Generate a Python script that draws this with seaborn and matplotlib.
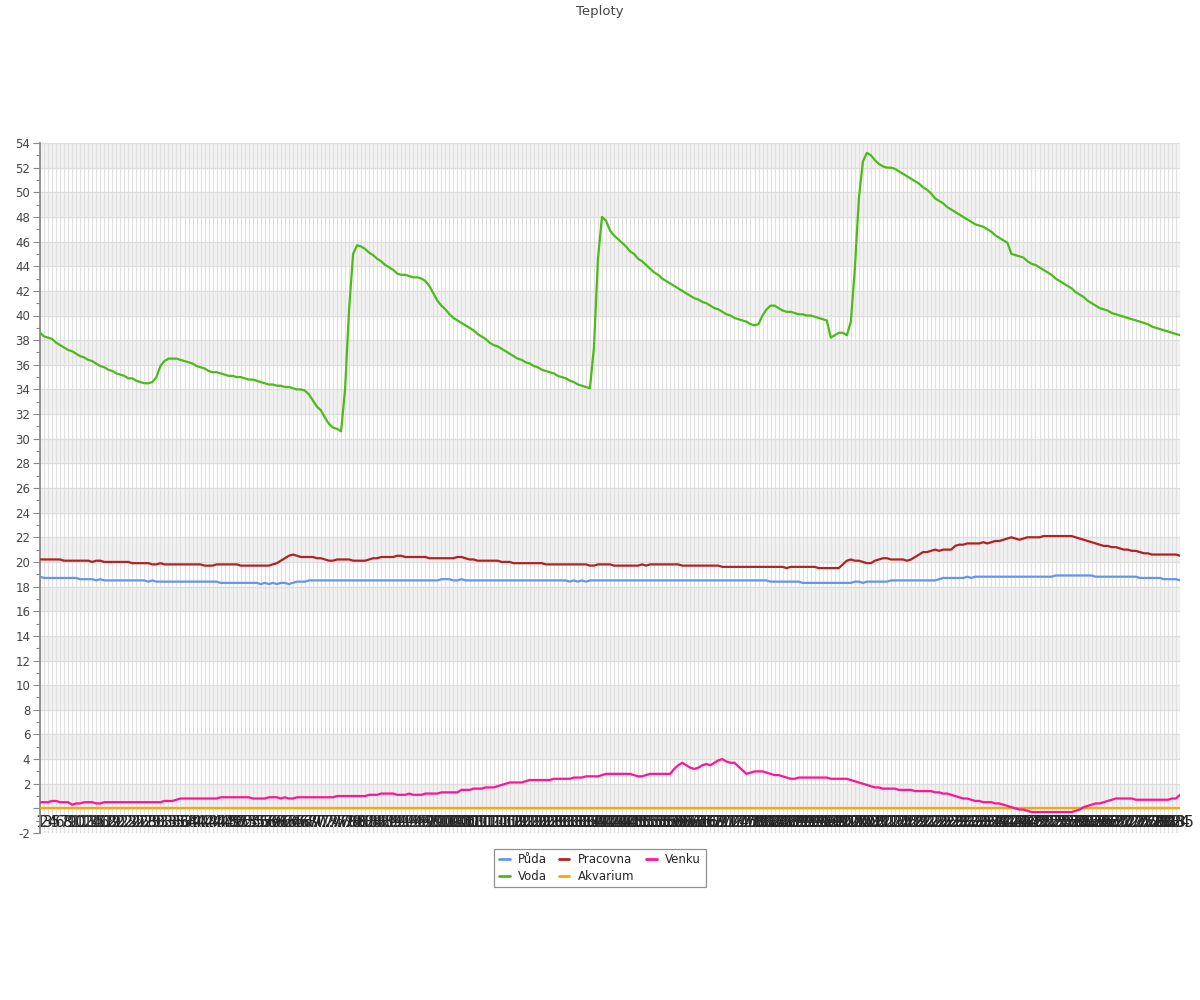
import pandas as pd
import matplotlib.pyplot as plt
import seaborn as sns
from matplotlib.lines import Line2D
from matplotlib.ticker import MultipleLocator

# x-axis categories: readings 1..285
x_labels = [str(n) for n in range(1, 286)]

puda = [
    18.8, 18.7, 18.7, 18.7, 18.7, 18.7, 18.7, 18.7, 18.7, 18.7,
    18.6, 18.6, 18.6, 18.6, 18.5, 18.6, 18.5, 18.5, 18.5, 18.5,
    18.5, 18.5, 18.5, 18.5, 18.5, 18.5, 18.5, 18.4, 18.5, 18.4,
    18.4, 18.4, 18.4, 18.4, 18.4, 18.4, 18.4, 18.4, 18.4, 18.4,
    18.4, 18.4, 18.4, 18.4, 18.4, 18.3, 18.3, 18.3, 18.3, 18.3,
    18.3, 18.3, 18.3, 18.3, 18.3, 18.2, 18.3, 18.2, 18.3, 18.2,
    18.3, 18.3, 18.2, 18.3, 18.4, 18.4, 18.4, 18.5, 18.5, 18.5,
    18.5, 18.5, 18.5, 18.5, 18.5, 18.5, 18.5, 18.5, 18.5, 18.5,
    18.5, 18.5, 18.5, 18.5, 18.5, 18.5, 18.5, 18.5, 18.5, 18.5,
    18.5, 18.5, 18.5, 18.5, 18.5, 18.5, 18.5, 18.5, 18.5, 18.5,
    18.6, 18.6, 18.6, 18.5, 18.5, 18.6, 18.5, 18.5, 18.5, 18.5,
    18.5, 18.5, 18.5, 18.5, 18.5, 18.5, 18.5, 18.5, 18.5, 18.5,
    18.5, 18.5, 18.5, 18.5, 18.5, 18.5, 18.5, 18.5, 18.5, 18.5,
    18.5, 18.5, 18.4, 18.5, 18.4, 18.5, 18.4, 18.5, 18.5, 18.5,
    18.5, 18.5, 18.5, 18.5, 18.5, 18.5, 18.5, 18.5, 18.5, 18.5,
    18.5, 18.5, 18.5, 18.5, 18.5, 18.5, 18.5, 18.5, 18.5, 18.5,
    18.5, 18.5, 18.5, 18.5, 18.5, 18.5, 18.5, 18.5, 18.5, 18.5,
    18.5, 18.5, 18.5, 18.5, 18.5, 18.5, 18.5, 18.5, 18.5, 18.5,
    18.5, 18.5, 18.4, 18.4, 18.4, 18.4, 18.4, 18.4, 18.4, 18.4,
    18.3, 18.3, 18.3, 18.3, 18.3, 18.3, 18.3, 18.3, 18.3, 18.3,
    18.3, 18.3, 18.3, 18.4, 18.4, 18.3, 18.4, 18.4, 18.4, 18.4,
    18.4, 18.4, 18.5, 18.5, 18.5, 18.5, 18.5, 18.5, 18.5, 18.5,
    18.5, 18.5, 18.5, 18.5, 18.6, 18.7, 18.7, 18.7, 18.7, 18.7,
    18.7, 18.8, 18.7, 18.8, 18.8, 18.8, 18.8, 18.8, 18.8, 18.8,
    18.8, 18.8, 18.8, 18.8, 18.8, 18.8, 18.8, 18.8, 18.8, 18.8,
    18.8, 18.8, 18.8, 18.9, 18.9, 18.9, 18.9, 18.9, 18.9, 18.9,
    18.9, 18.9, 18.9, 18.8, 18.8, 18.8, 18.8, 18.8, 18.8, 18.8,
    18.8, 18.8, 18.8, 18.8, 18.7, 18.7, 18.7, 18.7, 18.7, 18.7,
    18.6, 18.6, 18.6, 18.6, 18.5,
]

voda = [
    38.6, 38.3, 38.2, 38.1, 37.8, 37.6, 37.4, 37.2, 37.1, 36.9,
    36.7, 36.6, 36.4, 36.3, 36.1, 35.9, 35.8, 35.6, 35.5, 35.3,
    35.2, 35.1, 34.9, 34.9, 34.7, 34.6, 34.5, 34.5, 34.6, 35.0,
    35.9, 36.3, 36.5, 36.5, 36.5, 36.4, 36.3, 36.2, 36.1, 35.9,
    35.8, 35.7, 35.5, 35.4, 35.4, 35.3, 35.2, 35.1, 35.1, 35.0,
    35.0, 34.9, 34.8, 34.8, 34.7, 34.6, 34.5, 34.4, 34.4, 34.3,
    34.3, 34.2, 34.2, 34.1, 34.0, 34.0, 33.9, 33.6, 33.1, 32.6,
    32.3, 31.7, 31.2, 30.9, 30.8, 30.6, 34.0, 40.5, 45.0, 45.7,
    45.6, 45.4, 45.1, 44.9, 44.6, 44.4, 44.1, 43.9, 43.7, 43.4,
    43.3, 43.3, 43.2, 43.1, 43.1, 43.0, 42.8, 42.4, 41.8, 41.2,
    40.8, 40.5, 40.1, 39.8, 39.6, 39.4, 39.2, 39.0, 38.8, 38.5,
    38.3, 38.1, 37.8, 37.6, 37.5, 37.3, 37.1, 36.9, 36.7, 36.5,
    36.4, 36.2, 36.1, 35.9, 35.8, 35.6, 35.5, 35.4, 35.3, 35.1,
    35.0, 34.9, 34.7, 34.6, 34.4, 34.3, 34.2, 34.1, 37.4, 44.6,
    48.0, 47.7, 46.9, 46.5, 46.2, 45.9, 45.6, 45.2, 45.0, 44.6,
    44.4, 44.1, 43.8, 43.5, 43.3, 43.0, 42.8, 42.6, 42.4, 42.2,
    42.0, 41.8, 41.6, 41.4, 41.3, 41.1, 41.0, 40.8, 40.6, 40.5,
    40.3, 40.1, 40.0, 39.8, 39.7, 39.6, 39.5, 39.3, 39.2, 39.3,
    40.0, 40.5, 40.8, 40.8, 40.6, 40.4, 40.3, 40.3, 40.2, 40.1,
    40.1, 40.0, 40.0, 39.9, 39.8, 39.7, 39.6, 38.2, 38.4, 38.6,
    38.6, 38.4, 39.5, 43.8, 49.5, 52.5, 53.2, 53.0, 52.6, 52.3,
    52.1, 52.0, 52.0, 51.9, 51.7, 51.5, 51.3, 51.1, 50.9, 50.7,
    50.4, 50.2, 49.9, 49.5, 49.3, 49.1, 48.8, 48.6, 48.4, 48.2,
    48.0, 47.8, 47.6, 47.4, 47.3, 47.2, 47.0, 46.8, 46.5, 46.3,
    46.1, 45.9, 45.0, 44.9, 44.8, 44.7, 44.4, 44.2, 44.1, 43.9,
    43.7, 43.5, 43.3, 43.0, 42.8, 42.6, 42.4, 42.2, 41.9, 41.7,
    41.5, 41.2, 41.0, 40.8, 40.6, 40.5, 40.4, 40.2, 40.1, 40.0,
    39.9, 39.8, 39.7, 39.6, 39.5, 39.4, 39.3, 39.1, 39.0, 38.9,
    38.8, 38.7, 38.6, 38.5, 38.4,
]

pracovna = [
    20.2, 20.2, 20.2, 20.2, 20.2, 20.2, 20.1, 20.1, 20.1, 20.1,
    20.1, 20.1, 20.1, 20.0, 20.1, 20.1, 20.0, 20.0, 20.0, 20.0,
    20.0, 20.0, 20.0, 19.9, 19.9, 19.9, 19.9, 19.9, 19.8, 19.8,
    19.9, 19.8, 19.8, 19.8, 19.8, 19.8, 19.8, 19.8, 19.8, 19.8,
    19.8, 19.7, 19.7, 19.7, 19.8, 19.8, 19.8, 19.8, 19.8, 19.8,
    19.7, 19.7, 19.7, 19.7, 19.7, 19.7, 19.7, 19.7, 19.8, 19.9,
    20.1, 20.3, 20.5, 20.6, 20.5, 20.4, 20.4, 20.4, 20.4, 20.3,
    20.3, 20.2, 20.1, 20.1, 20.2, 20.2, 20.2, 20.2, 20.1, 20.1,
    20.1, 20.1, 20.2, 20.3, 20.3, 20.4, 20.4, 20.4, 20.4, 20.5,
    20.5, 20.4, 20.4, 20.4, 20.4, 20.4, 20.4, 20.3, 20.3, 20.3,
    20.3, 20.3, 20.3, 20.3, 20.4, 20.4, 20.3, 20.2, 20.2, 20.1,
    20.1, 20.1, 20.1, 20.1, 20.1, 20.0, 20.0, 20.0, 19.9, 19.9,
    19.9, 19.9, 19.9, 19.9, 19.9, 19.9, 19.8, 19.8, 19.8, 19.8,
    19.8, 19.8, 19.8, 19.8, 19.8, 19.8, 19.8, 19.7, 19.7, 19.8,
    19.8, 19.8, 19.8, 19.7, 19.7, 19.7, 19.7, 19.7, 19.7, 19.7,
    19.8, 19.7, 19.8, 19.8, 19.8, 19.8, 19.8, 19.8, 19.8, 19.8,
    19.7, 19.7, 19.7, 19.7, 19.7, 19.7, 19.7, 19.7, 19.7, 19.7,
    19.6, 19.6, 19.6, 19.6, 19.6, 19.6, 19.6, 19.6, 19.6, 19.6,
    19.6, 19.6, 19.6, 19.6, 19.6, 19.6, 19.5, 19.6, 19.6, 19.6,
    19.6, 19.6, 19.6, 19.6, 19.5, 19.5, 19.5, 19.5, 19.5, 19.5,
    19.8, 20.1, 20.2, 20.1, 20.1, 20.0, 19.9, 19.9, 20.1, 20.2,
    20.3, 20.3, 20.2, 20.2, 20.2, 20.2, 20.1, 20.2, 20.4, 20.6,
    20.8, 20.8, 20.9, 21.0, 20.9, 21.0, 21.0, 21.0, 21.3, 21.4,
    21.4, 21.5, 21.5, 21.5, 21.5, 21.6, 21.5, 21.6, 21.7, 21.7,
    21.8, 21.9, 22.0, 21.9, 21.8, 21.9, 22.0, 22.0, 22.0, 22.0,
    22.1, 22.1, 22.1, 22.1, 22.1, 22.1, 22.1, 22.1, 22.0, 21.9,
    21.8, 21.7, 21.6, 21.5, 21.4, 21.3, 21.3, 21.2, 21.2, 21.1,
    21.0, 21.0, 20.9, 20.9, 20.8, 20.7, 20.7, 20.6, 20.6, 20.6,
    20.6, 20.6, 20.6, 20.6, 20.5,
]

# aquarium sensor reads a flat 0 over the whole period
akvarium = [0.0] * len(x_labels)

venku = [
    0.5, 0.5, 0.5, 0.6, 0.6, 0.5, 0.5, 0.5, 0.3, 0.4,
    0.4, 0.5, 0.5, 0.5, 0.4, 0.4, 0.5, 0.5, 0.5, 0.5,
    0.5, 0.5, 0.5, 0.5, 0.5, 0.5, 0.5, 0.5, 0.5, 0.5,
    0.5, 0.6, 0.6, 0.6, 0.7, 0.8, 0.8, 0.8, 0.8, 0.8,
    0.8, 0.8, 0.8, 0.8, 0.8, 0.9, 0.9, 0.9, 0.9, 0.9,
    0.9, 0.9, 0.9, 0.8, 0.8, 0.8, 0.8, 0.9, 0.9, 0.9,
    0.8, 0.9, 0.8, 0.8, 0.9, 0.9, 0.9, 0.9, 0.9, 0.9,
    0.9, 0.9, 0.9, 0.9, 1.0, 1.0, 1.0, 1.0, 1.0, 1.0,
    1.0, 1.0, 1.1, 1.1, 1.1, 1.2, 1.2, 1.2, 1.2, 1.1,
    1.1, 1.1, 1.2, 1.1, 1.1, 1.1, 1.2, 1.2, 1.2, 1.2,
    1.3, 1.3, 1.3, 1.3, 1.3, 1.5, 1.5, 1.5, 1.6, 1.6,
    1.6, 1.7, 1.7, 1.7, 1.8, 1.9, 2.0, 2.1, 2.1, 2.1,
    2.1, 2.2, 2.3, 2.3, 2.3, 2.3, 2.3, 2.3, 2.4, 2.4,
    2.4, 2.4, 2.4, 2.5, 2.5, 2.5, 2.6, 2.6, 2.6, 2.6,
    2.7, 2.8, 2.8, 2.8, 2.8, 2.8, 2.8, 2.8, 2.7, 2.6,
    2.6, 2.7, 2.8, 2.8, 2.8, 2.8, 2.8, 2.8, 3.2, 3.5,
    3.7, 3.5, 3.3, 3.2, 3.3, 3.5, 3.6, 3.5, 3.7, 3.9,
    4.0, 3.8, 3.7, 3.7, 3.4, 3.1, 2.8, 2.9, 3.0, 3.0,
    3.0, 2.9, 2.8, 2.7, 2.7, 2.6, 2.5, 2.4, 2.4, 2.5,
    2.5, 2.5, 2.5, 2.5, 2.5, 2.5, 2.5, 2.4, 2.4, 2.4,
    2.4, 2.4, 2.3, 2.2, 2.1, 2.0, 1.9, 1.8, 1.7, 1.7,
    1.6, 1.6, 1.6, 1.6, 1.5, 1.5, 1.5, 1.5, 1.4, 1.4,
    1.4, 1.4, 1.4, 1.3, 1.3, 1.2, 1.2, 1.1, 1.0, 0.9,
    0.8, 0.8, 0.7, 0.6, 0.6, 0.5, 0.5, 0.5, 0.4, 0.4,
    0.3, 0.2, 0.1, 0.0, -0.1, -0.1, -0.2, -0.3, -0.3, -0.3,
    -0.3, -0.3, -0.3, -0.3, -0.3, -0.3, -0.3, -0.3, -0.2, -0.1,
    0.1, 0.2, 0.3, 0.4, 0.4, 0.5, 0.6, 0.7, 0.8, 0.8,
    0.8, 0.8, 0.8, 0.7, 0.7, 0.7, 0.7, 0.7, 0.7, 0.7,
    0.7, 0.7, 0.8, 0.8, 1.1,
]

series_names = ["Půda", "Voda", "Pracovna", "Akvarium", "Venku"]
series_colors = ["#6495ed", "#4cbb17", "#b22222", "#ffa500", "#ff1493"]

frames = []
for name, vals in zip(series_names, [puda, voda, pracovna, akvarium, venku]):
    frames.append(pd.DataFrame({"idx": range(len(vals)), "temp": vals, "series": name}))
df = pd.concat(frames, ignore_index=True)

sns.set_theme(style="white")
plt.rcParams["font.family"] = ["DejaVu Sans"]

fig = plt.figure(figsize=(12, 10), dpi=100)
ax = fig.add_axes([40 / 1200, 0.167, 1140 / 1200, 0.690])

# alternating horizontal bands
for lo in range(0, 54, 4):
    ax.axhspan(lo, lo + 2, color="#f2f2f2", zorder=0, lw=0)

sns.lineplot(data=df, x="idx", y="temp", hue="series", hue_order=series_names,
             palette=series_colors, estimator=None, sort=False, legend=False,
             linewidth=1.6, ax=ax, zorder=3)

ax.set_xlim(0, len(x_labels) - 1)
ax.set_ylim(-2, 54)
ax.set_xlabel("")
ax.set_ylabel("")

# all 285 category labels are drawn, overlapping, as in the original
ax.set_xticks(range(len(x_labels)))
ax.set_xticklabels(x_labels, fontsize=7.5, color="#555555")
ax.tick_params(axis="x", length=0, pad=5)
ax.spines["bottom"].set_position(("data", 0))
ax.spines["bottom"].set_visible(False)
ax.spines["top"].set_visible(False)
ax.spines["right"].set_visible(False)
ax.spines["left"].set_color("#888888")

yt = list(range(-2, 55, 2))
ax.set_yticks(yt)
ax.set_yticklabels(["" if v == 0 else str(v) for v in yt], fontsize=8.5, color="#444444")
ax.yaxis.set_minor_locator(MultipleLocator(1))
ax.tick_params(axis="y", which="major", direction="out", length=5, width=0.8,
               color="#888888", pad=2, left=True)
ax.tick_params(axis="y", which="minor", direction="out", length=3, width=0.8,
               color="#888888", left=True)

ax.grid(True, axis="x", color="#e0e0e0", lw=0.9, zorder=1)
ax.grid(True, axis="y", which="major", color="#dddddd", lw=0.9, zorder=1)
ax.set_axisbelow(True)

fig.text(0.5, 0.989, "Teploty", ha="center", va="center", fontsize=9.5, color="#444444")

handles = [Line2D([0], [0], color=c, lw=2) for c in series_colors]
leg = fig.legend(handles, series_names, loc="center", bbox_to_anchor=(0.5, 0.132),
                 ncol=3, frameon=True, fancybox=False, edgecolor="#777777",
                 fontsize=8.5, handlelength=0.9, columnspacing=1.0,
                 borderpad=0.4, labelspacing=0.3, handletextpad=0.7)
leg.get_frame().set_linewidth(0.9)

fig.savefig("out.png", dpi=100, facecolor="white")
